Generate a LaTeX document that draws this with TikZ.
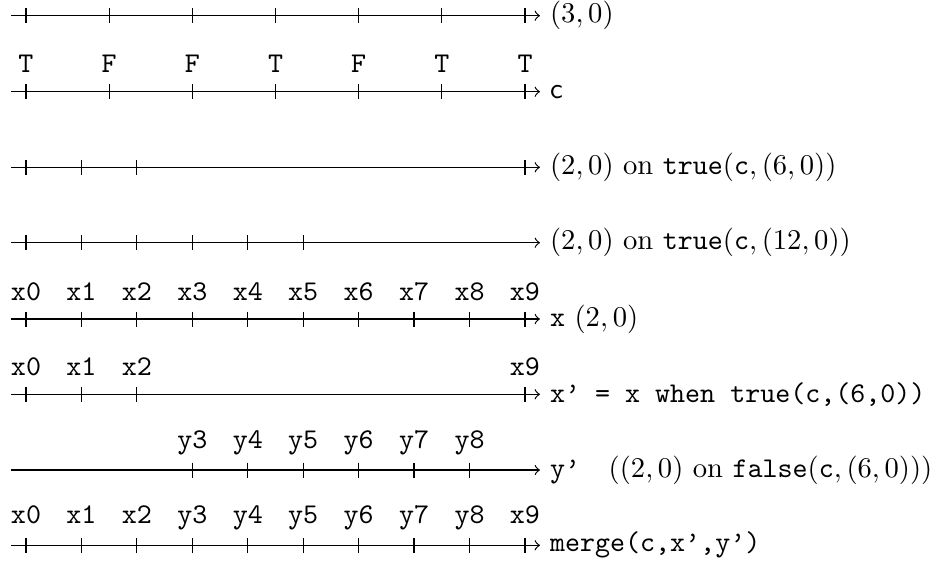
\documentclass[tikz,border=0pt]{standalone}
\begin{document}
\begin{tikzpicture}[x=0.3497pt,y=-0.3497pt,
  axisline/.style={->,line width=0.42pt},
  tickmark/.style={line width=0.42pt},
  lab/.style={anchor=base,inner sep=0pt,font=\ttfamily},
  rlab/.style={anchor=west}]
\useasboundingbox (0,0) rectangle (938,560);
% row ys
\def\rA{15.7}\def\rB{91.7}\def\rC{167.3}\def\rD{242.7}
\def\rE{319}\def\rF{394.3}\def\rG{470}\def\rH{545.3}
% row 1
\coordinate (s1) at (11,\rA); \coordinate (e1) at (540,\rA);
\draw[axisline] (s1) -- (e1);
\foreach \k in {0,...,6} \draw[tickmark] ({26+83.17*\k},\rA-7.5) -- ++(0,15);
\node[rlab] (l1) at (e1) {$(3,0)$};
% row 2
\coordinate (s2) at (11,\rB); \coordinate (e2) at (540,\rB);
\draw[axisline] (s2) -- (e2);
\foreach \k in {0,...,6} \draw[tickmark] ({26+83.17*\k},\rB-7.5) -- ++(0,15);
\foreach \k/\t in {0/T,1/F,2/F,3/T,4/F,5/T,6/T}
  \node[lab] (c\k) at ({26+83.17*\k},\rB-19) {\t};
\node[rlab] (l2) at (e2) {\textsf{c}};
% row 3
\coordinate (s3) at (11,\rC); \coordinate (e3) at (540,\rC);
\draw[axisline] (s3) -- (e3);
\foreach \k in {0,1,2,9} \draw[tickmark] ({26+55.44*\k},\rC-7.5) -- ++(0,15);
\node[rlab] (l3) at (e3) {$(2,0)$ on $\mathtt{true}(\mathtt{c},(6,0))$};
% row 4
\coordinate (s4) at (11,\rD); \coordinate (e4) at (540,\rD);
\draw[axisline] (s4) -- (e4);
\foreach \k in {0,...,5} \draw[tickmark] ({26+55.44*\k},\rD-7.5) -- ++(0,15);
\node[rlab] (l4) at (e4) {$(2,0)$ on $\mathtt{true}(\mathtt{c},(12,0))$};
% row 5
\coordinate (s5) at (11,\rE); \coordinate (e5) at (540,\rE);
\draw[axisline] (s5) -- (e5);
\foreach \k in {0,...,9} {
  \draw[tickmark] ({26+55.44*\k},\rE-7.5) -- ++(0,15);
  \node[lab] (x\k) at ({26+55.44*\k},\rE-19) {x\k};
}
\node[rlab] (l5) at (e5) {\texttt{x} $(2,0)$};
% row 6
\coordinate (s6) at (11,\rF); \coordinate (e6) at (540,\rF);
\draw[axisline] (s6) -- (e6);
\foreach \k in {0,1,2,9} {
  \draw[tickmark] ({26+55.44*\k},\rF-7.5) -- ++(0,15);
  \node[lab] (xp\k) at ({26+55.44*\k},\rF-19) {x\k};
}
\node[rlab] (l6) at (e6) {\texttt{x’ = x when true(c,(6,0))}};
% row 7
\coordinate (s7) at (11,\rG); \coordinate (e7) at (540,\rG);
\draw[axisline] (s7) -- (e7);
\foreach \k in {3,...,8} {
  \draw[tickmark] ({26+55.44*\k},\rG-7.5) -- ++(0,15);
  \node[lab] (yp\k) at ({26+55.44*\k},\rG-22) {y\k};
}
\node[rlab] (l7) at (e7) {\texttt{y’}\quad$((2,0)\ \mathrm{on}\ \mathtt{false}(\mathtt{c},(6,0)))$};
% row 8
\coordinate (s8) at (11,\rH); \coordinate (e8) at (540,\rH);
\draw[axisline] (s8) -- (e8);
\foreach \k/\t in {0/x0,1/x1,2/x2,3/y3,4/y4,5/y5,6/y6,7/y7,8/y8,9/x9} {
  \draw[tickmark] ({26+55.44*\k},\rH-7.5) -- ++(0,15);
  \node[lab] (m\k) at ({26+55.44*\k},\rH-22) {\t};
}
\node[rlab] (l8) at (e8) {\texttt{merge(c,x’,y’)}};
\end{tikzpicture}
\end{document}
